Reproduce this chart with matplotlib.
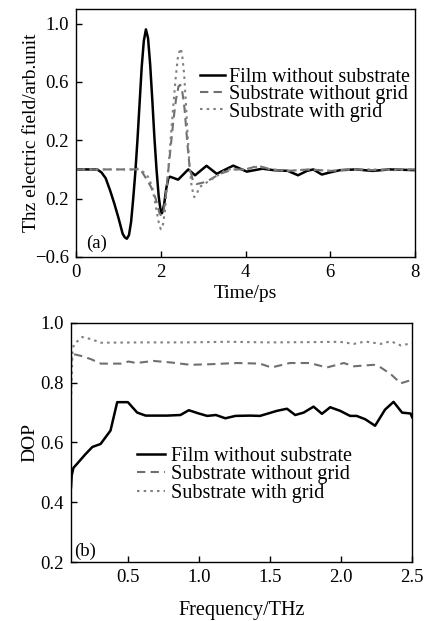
import matplotlib
matplotlib.use('Agg')
import matplotlib.pyplot as plt

plt.rcParams['font.family'] = ['Liberation Serif', 'DejaVu Serif']

# ---- (a) THz time-domain waveforms ----
t_film = [0, 0.5, 0.6, 0.7, 0.8, 0.9, 1.0, 1.1, 1.15, 1.2,
          1.25, 1.3, 1.35, 1.4, 1.45, 1.5, 1.55, 1.6, 1.65, 1.7,
          1.75, 1.8, 1.85, 1.9, 1.95, 2.0, 2.03, 2.08, 2.13, 2.18,
          2.22, 2.41, 2.65, 2.81, 3.08, 3.32, 3.71, 4.03, 4.4, 4.66,
          5.0, 5.24, 5.45, 5.6, 5.8, 6.0, 6.23, 6.6, 7.0, 7.4, 8.0]
e_film = [0, 0, -0.02, -0.06, -0.14, -0.23, -0.33, -0.44, -0.465, -0.475,
          -0.45, -0.36, -0.2, -0.02, 0.2, 0.45, 0.7, 0.88, 0.96, 0.9,
          0.72, 0.48, 0.22, 0.0, -0.18, -0.29, -0.3, -0.24, -0.13, -0.06,
          -0.05, -0.07, 0.0, -0.04, 0.025, -0.03, 0.026, -0.015, 0.005, -0.005,
          -0.01, -0.04, -0.01, 0.0, -0.035, -0.02, -0.005, 0.0, -0.01, 0.0, -0.005]

t_sub = [0, 1.4, 1.5, 1.65, 1.77, 1.88, 1.97, 2.02, 2.07, 2.12,
         2.18, 2.24, 2.3, 2.36, 2.42, 2.46, 2.51, 2.56, 2.6, 2.64,
         2.68, 2.76, 2.85, 3.0, 3.16, 3.4, 3.7, 4.0, 4.3, 4.6,
         5.0, 5.5, 6.0, 6.5, 7.0, 7.5, 8.0]
e_sub = [0, 0, 0.01, -0.06, -0.12, -0.2, -0.3, -0.32, -0.28, -0.18,
         0.0, 0.17, 0.34, 0.48, 0.57, 0.58, 0.53, 0.42, 0.28, 0.14,
         0.02, -0.08, -0.1, -0.09, -0.07, -0.03, 0.0, 0.0, 0.025, 0.0,
         -0.01, 0.0, -0.01, 0.0, -0.005, 0.0, 0.0]

t_grid = [0, 1.5, 1.6, 1.7, 1.8, 1.9, 1.95, 2.0, 2.05, 2.1,
          2.15, 2.2, 2.25, 2.3, 2.35, 2.4, 2.46, 2.5, 2.55, 2.6,
          2.64, 2.68, 2.73, 2.79, 2.86, 2.92, 3.08, 3.3, 3.55, 4.0,
          4.3, 4.6, 5.0, 5.5, 6.0, 6.5, 7.0, 7.5, 8.0]
e_grid = [0, 0, -0.02, -0.05, -0.12, -0.28, -0.36, -0.41, -0.38, -0.28,
          -0.1, 0.08, 0.27, 0.45, 0.62, 0.76, 0.83, 0.8, 0.66, 0.42,
          0.2, 0.02, -0.12, -0.19, -0.16, -0.12, -0.09, -0.05, 0.0, 0.0,
          0.02, 0.0, -0.01, 0.0, -0.01, 0.0, 0.0, -0.005, 0.0]

yticks_a = [1.0, 0.6, 0.2, -0.2, -0.6]
yticklabels_a = ['1.0', '0.6', '0.2', '0.2', '\u22120.6']

# ---- (b) degree of polarization ----
f_film = [0.1, 0.105, 0.117, 0.145, 0.2, 0.25, 0.308, 0.378, 0.425, 0.5,
          0.566, 0.625, 0.777, 0.87, 0.929, 1.0, 1.058, 1.12, 1.186, 1.257,
          1.36, 1.43, 1.55, 1.62, 1.678, 1.737, 1.807, 1.866, 1.924, 1.994,
          2.064, 2.11, 2.17, 2.24, 2.31, 2.37, 2.43, 2.49, 2.5]
dop_film = [0.45, 0.49, 0.515, 0.53, 0.56, 0.585, 0.595, 0.64, 0.735, 0.735,
            0.70, 0.69, 0.69, 0.692, 0.708, 0.697, 0.689, 0.692, 0.681, 0.689,
            0.69, 0.689, 0.706, 0.713, 0.692, 0.70, 0.72, 0.696, 0.718, 0.706,
            0.689, 0.689, 0.678, 0.656, 0.71, 0.736, 0.70, 0.697, 0.685]

f_sub = [0.1, 0.105, 0.17, 0.24, 0.31, 0.45, 0.505, 0.56, 0.68, 0.8,
         0.94, 1.08, 1.27, 1.43, 1.51, 1.64, 1.78, 1.9, 2.02, 2.09,
         2.23, 2.28, 2.35, 2.42, 2.5]
dop_sub = [0.86, 0.897, 0.89, 0.879, 0.864, 0.864, 0.871, 0.866, 0.873, 0.868,
           0.86, 0.862, 0.866, 0.864, 0.851, 0.866, 0.866, 0.851, 0.866, 0.855,
           0.86, 0.851, 0.829, 0.798, 0.81]

f_grid = [0.1, 0.11, 0.12, 0.18, 0.24, 0.31, 0.6, 0.9, 1.2, 1.5,
          1.8, 1.99, 2.09, 2.17, 2.28, 2.35, 2.42, 2.5]
dop_grid = [0.74, 0.9, 0.929, 0.953, 0.946, 0.934, 0.935, 0.935, 0.937, 0.935,
            0.936, 0.937, 0.93, 0.938, 0.93, 0.939, 0.925, 0.932]

labels = ['Film without substrate', 'Substrate without grid', 'Substrate with grid']

fs = 13.5
fig = plt.figure(figsize=(4.26, 6.21), dpi=100)
ax1 = fig.add_axes([0.1784, 0.5862, 0.7958, 0.3994])
ax2 = fig.add_axes([0.1667, 0.0950, 0.8005, 0.3849])


def style_axes(ax):
    for s in ax.spines.values():
        s.set_linewidth(1.0)
    ax.tick_params(direction='in', length=4, width=1.0, labelsize=fs, pad=5,
                   top=False, right=False)


def draw(ax, xa, ya, xb, yb, xc, yc):
    ax.plot(xa, ya, color='black', lw=1.8, label=labels[0])
    ax.plot(xb, yb, color='#707070', lw=1.5, dashes=(4, 2.5), label=labels[1])
    ax.plot(xc, yc, color='#808080', lw=1.5, dashes=(1.2, 2.0), label=labels[2])


# top panel
draw(ax1, t_film, e_film, t_sub, e_sub, t_grid, e_grid)
ax1.set_xlim(0, 8)
ax1.set_ylim(-0.6, 1.1)
ax1.set_xticks([0, 2, 4, 6, 8])
ax1.set_yticks(yticks_a)
ax1.set_yticklabels(yticklabels_a)
style_axes(ax1)
ax1.set_xlabel('Time/ps', fontsize=fs + 0.5)
ax1.set_ylabel('Thz electric field/arb.unit', fontsize=fs + 0.5)
ax1.xaxis.set_label_coords(0.5, -0.115)
ax1.yaxis.set_label_coords(-0.105, 0.5)
ax1.text(0.03, 0.056, '(a)', transform=ax1.transAxes, fontsize=fs, va='center', ha='left')
ax1.legend(loc='center left', bbox_to_anchor=(0.366, 0.655), frameon=False,
           fontsize=14.5, borderpad=0, borderaxespad=0, handlelength=1.25,
           handletextpad=0.2, labelspacing=-0.08)

# bottom panel
draw(ax2, f_film, dop_film, f_sub, dop_sub, f_grid, dop_grid)
ax2.set_xlim(0.1, 2.5)
ax2.set_ylim(0.2, 1.0)
ax2.set_xticks([0.5, 1.0, 1.5, 2.0, 2.5])
ax2.set_yticks([0.2, 0.4, 0.6, 0.8, 1.0])
ax2.set_xticklabels(['0.5', '1.0', '1.5', '2.0', '2.5'])
ax2.set_yticklabels(['0.2', '0.4', '0.6', '0.8', '1.0'])
style_axes(ax2)
ax2.set_xlabel('Frequency/THz', fontsize=fs + 1)
ax2.set_ylabel('DOP', fontsize=fs + 0.5)
ax2.xaxis.set_label_coords(0.5, -0.165)
ax2.yaxis.set_label_coords(-0.095, 0.5)
ax2.text(0.01, 0.045, '(b)', transform=ax2.transAxes, fontsize=fs, va='center', ha='left')
ax2.legend(loc='center left', bbox_to_anchor=(0.194, 0.365), frameon=False,
           fontsize=14.5, borderpad=0, borderaxespad=0, handlelength=1.4,
           handletextpad=0.3, labelspacing=-0.03)

fig.savefig('out.png', dpi=100)
